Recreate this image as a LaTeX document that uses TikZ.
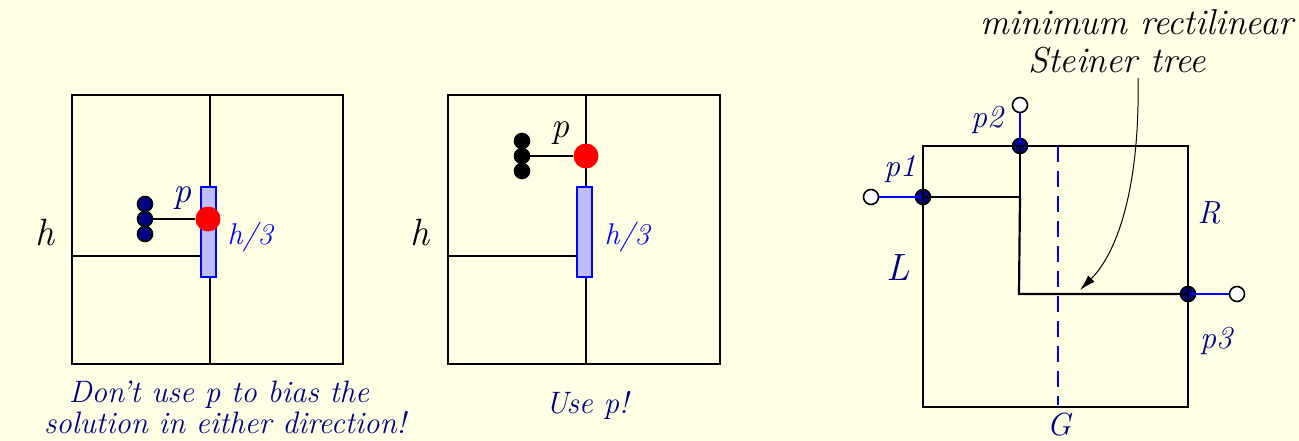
\documentclass[tikz,border=0pt]{standalone}
\usetikzlibrary{arrows.meta}
\definecolor{bg}{RGB}{255,255,230}
\definecolor{navy}{RGB}{0,0,130}
\definecolor{lblue}{RGB}{190,190,255}
\begin{document}
\begin{tikzpicture}[x=1pt,y=-1pt,
  frame/.style={draw=black, line width=2.4pt},
  wire/.style={draw=black, line width=2.2pt},
  bwire/.style={draw=blue, line width=2.2pt},
  redpt/.style={circle, fill=red, minimum size=25pt, inner sep=0pt},
  bead/.style={circle, draw=black, fill=navy, line width=1.6pt, minimum size=15pt, inner sep=0pt},
  kbead/.style={circle, draw=black, fill=black, line width=1.6pt, minimum size=15pt, inner sep=0pt},
  hollow/.style={circle, draw=black, fill=white, line width=1.6pt, minimum size=15pt, inner sep=0pt},
  bar/.style={rectangle, draw=blue, fill=lblue, line width=1.6pt, minimum width=15pt, minimum height=90pt, inner sep=0pt},
  captext/.style={font=\itshape\fontsize{31}{33}\selectfont, inner sep=0pt, anchor=base},
  plbl/.style={font=\itshape\fontsize{36}{38}\selectfont, inner sep=0pt, anchor=base},
  big/.style={font=\itshape\fontsize{38}{40}\selectfont, inner sep=0pt, anchor=base},
  note/.style={font=\itshape\fontsize{36}{38}\selectfont, inner sep=0pt, anchor=base},
  small/.style={font=\itshape\fontsize{32}{34}\selectfont, inner sep=0pt, anchor=base},
  frac/.style={font=\itshape\fontsize{30}{32}\selectfont, inner sep=0pt, anchor=base}]
\fill[bg] (0,0) rectangle (1299,441);
\useasboundingbox (0,0) rectangle (1299,441);

% ---------- Box 1 ----------
\draw[frame] (72,95) rectangle (343,364);
\draw[frame] (210,95) -- (210,364);
\draw[frame] (72,256) -- (201,256);
\node[bar] (bar1) at (208.5,232) {};
\node[redpt] (r1) at (208,219) {};
\node[bead] (a1) at (145,204) {};
\node[bead] (a3) at (145,234) {};
\node[bead] (a2) at (145,219) {};
\draw[wire] (a2) -- (r1);
\node[plbl, text=navy] (pl1) at (182,203) {p};
\node[frac, text=blue] (hl1) at (250,244) {h/3};
\node[big] (h1) at (45,245) {h};

% ---------- Box 2 ----------
\draw[frame] (448,95) rectangle (720,364);
\draw[frame] (586,95) -- (586,364);
\draw[frame] (448,256) -- (577,256);
\node[bar] (bar2) at (584.5,232) {};
\node[redpt] (r2) at (586,156) {};
\node[kbead] (b1) at (522,141) {};
\node[kbead] (b3) at (522,171) {};
\node[kbead] (b2) at (522,156) {};
\draw[wire] (b2) -- (r2);
\node[plbl] (pl2) at (560,138) {p};
\node[frac, text=blue] (hl2) at (627,244) {h/3};
\node[big] (h2) at (420,245) {h};

% ---------- captions ----------
\node[captext, text=navy] (c1) at (219,402) {Don’t use p to bias the};
\node[captext, text=navy] (c2) at (225,433) {solution in either direction!};
\node[captext, text=navy] (c3) at (587,413) {Use p!};

% ---------- Box 3 ----------
\draw[frame] (923,146) rectangle (1188,407);
\draw[blue, line width=2.2pt, dash pattern=on 16pt off 9pt] (1058,146) -- (1058,405);
\node[hollow] (o1) at (871,197) {};
\node[hollow] (o2) at (1020,105) {};
\node[hollow] (o3) at (1237,294) {};
\node[bead] (p1) at (923,197) {};
\node[bead] (p2) at (1020,146) {};
\node[bead] (p3) at (1188,294) {};
\coordinate (k1) at (1020,197);
\coordinate (k2) at (1019,294);
\draw[bwire] (o1) -- (p1.center);
\draw[bwire] (o2) -- (p2.center);
\draw[bwire] (o3) -- (p3.center);
\draw[wire] (p1.center) -- (k1) -- (p2.center);
\draw[wire] (k1) -- (k2) -- (p3.center);
\draw[line width=1.6pt] (p1.north) -- (p1.south);
\draw[line width=1.6pt] (p2.west) -- (p2.east);
\draw[line width=1.6pt] (p3.north) -- (p3.south);

\node[small, text=navy] (lp1) at (900,177) {p1};
\node[small, text=navy] (lp2) at (987,128) {p2};
\node[small, text=navy] (lp3) at (1216,348) {p3};
\node[small, text=navy] (lR) at (1209,223) {R};
\node[big, text=navy] (lL) at (898,280) {L};
\node[small, text=navy] (lG) at (1059,435) {G};

\node[note] (t1) at (1137,35) {minimum rectilinear};
\node[note] (t2) at (1117,73) {Steiner tree};
\coordinate (as) at (1138,78);
\coordinate (ae) at (1080,290);
\draw[line width=1pt, -{Latex[length=16pt,width=9pt]}] (as) .. controls (1140,180) and (1120,250) .. (ae);
\end{tikzpicture}
\end{document}
